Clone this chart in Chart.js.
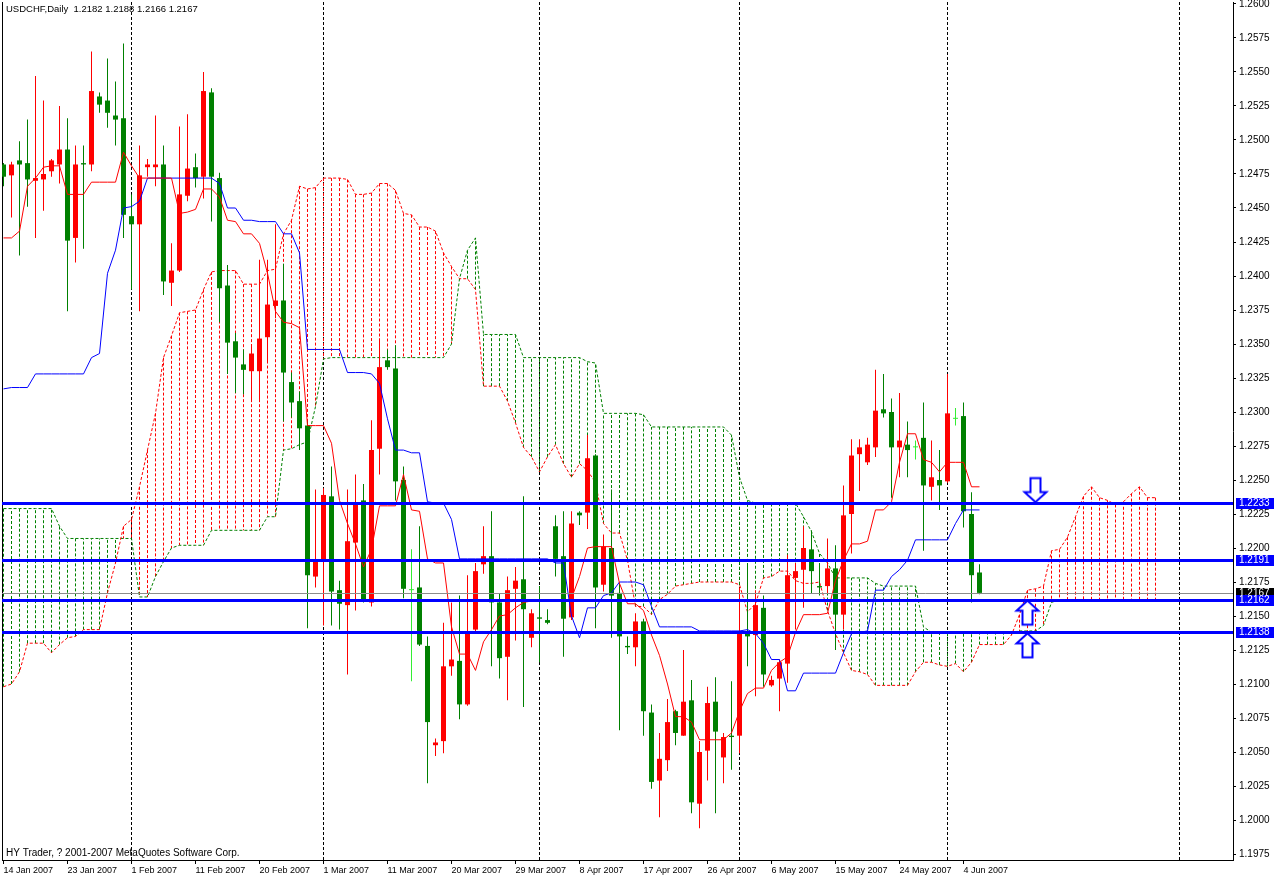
<!DOCTYPE html>
<html>
<head>
<meta charset="utf-8">
<title>USDCHF,Daily</title>
<script src="https://cdn.jsdelivr.net/npm/chart.js@4.4.1/dist/chart.umd.min.js"></script>
<style>
  html, body { margin: 0; padding: 0; background: #fff; }
  #wrap { width: 1274px; height: 878px; }
</style>
</head>
<body>
<div id="wrap"><canvas id="chart" width="1274" height="878"></canvas></div>
<script>
// ---- data (daily bars, index 0 = 14 Jan 2007) ----
const dateLabels = ['14 Jan 2007', '23 Jan 2007', '1 Feb 2007', '11 Feb 2007', '20 Feb 2007', '1 Mar 2007',
  '11 Mar 2007', '20 Mar 2007', '29 Mar 2007', '8 Apr 2007', '17 Apr 2007', '26 Apr 2007', '6 May 2007',
  '15 May 2007', '24 May 2007', '4 Jun 2007'];
const dateBars = [0, 8, 16, 24, 32, 40, 48, 56, 64, 72, 80, 88, 96, 104, 112, 120];
const separatorBars = [16, 40, 67, 92, 118, 147];
const priceTicks = [1.2600, 1.2575, 1.2550, 1.2525, 1.2500, 1.2475, 1.2450, 1.2425, 1.2400, 1.2375,
  1.2350, 1.2325, 1.2300, 1.2275, 1.2250, 1.2225, 1.2200, 1.2175, 1.2150, 1.2125, 1.2100, 1.2075,
  1.2050, 1.2025, 1.2000, 1.1975];

const opens = [
  1.2482, 1.2474, 1.2485, 1.2483, 1.2470, 1.2471, 1.2477, 1.2482, 1.2493, 1.2428,
  1.2483, 1.2482, 1.2532, 1.2529, 1.2518, 1.2516, 1.2444, 1.2438, 1.2480, 1.2480,
  1.2482, 1.2395, 1.2404, 1.2459, 1.2480, 1.2473, 1.2535, 1.2472, 1.2393, 1.2352,
  1.2335, 1.2330, 1.2330, 1.2355, 1.2378, 1.2382, 1.2322, 1.2308, 1.2290, 1.2179,
  1.2190, 1.2238, 1.2169, 1.2158, 1.2204, 1.2235, 1.2160, 1.2273, 1.2338, 1.2332,
  1.2250, 1.2169, 1.2171, 1.2128, 1.2055, 1.2058, 1.2113, 1.2117, 1.2085, 1.2140,
  1.2188, 1.2194, 1.2160, 1.2120, 1.2170, 1.2177, 1.2134, 1.2149, 1.2147, 1.2216,
  1.2194, 1.2149, 1.2226, 1.2226, 1.2268, 1.2173, 1.2200, 1.2167, 1.2128, 1.2127,
  1.2146, 1.2079, 1.2029, 1.2044, 1.2080, 1.2062, 1.2088, 1.2012, 1.2051, 1.2087,
  1.2046, 1.2062, 1.2062, 1.2138, 1.2136, 1.2156, 1.2099, 1.2104, 1.2115, 1.2178,
  1.2184, 1.2199, 1.2172, 1.2172, 1.2185, 1.2151, 1.2225, 1.2269, 1.2263, 1.2274,
  1.2302, 1.2300, 1.2274, 1.2276, 1.2274, 1.2281, 1.2245, 1.2250, 1.2249, 1.2295,
  1.2297, 1.2225, 1.2182];
const highs = [
  1.2483, 1.2484, 1.2499, 1.2515, 1.2547, 1.2529, 1.2486, 1.2525, 1.2516, 1.2496,
  1.2496, 1.2565, 1.2535, 1.2560, 1.2543, 1.2571, 1.2460, 1.2496, 1.2486, 1.2518,
  1.2496, 1.2424, 1.2510, 1.2519, 1.2490, 1.2550, 1.2538, 1.2476, 1.2408, 1.2358,
  1.2346, 1.2350, 1.2412, 1.2412, 1.2438, 1.2409, 1.2329, 1.2315, 1.2293, 1.2243,
  1.2244, 1.2260, 1.2176, 1.2243, 1.2254, 1.2247, 1.2294, 1.2354, 1.2346, 1.2349,
  1.2260, 1.2199, 1.2216, 1.2135, 1.2060, 1.2145, 1.2160, 1.2165, 1.2180, 1.2189,
  1.2216, 1.2227, 1.2167, 1.2179, 1.2186, 1.2238, 1.2155, 1.2172, 1.2155, 1.2224,
  1.2227, 1.2227, 1.2227, 1.2283, 1.2269, 1.2210, 1.2243, 1.2174, 1.2135, 1.2152,
  1.2148, 1.2085, 1.2064, 1.2089, 1.2081, 1.2125, 1.2103, 1.2058, 1.2098, 1.2105,
  1.2064, 1.2102, 1.2171, 1.2189, 1.2169, 1.2165, 1.2106, 1.2118, 1.2195, 1.2189,
  1.2216, 1.2213, 1.2189, 1.2207, 1.2202, 1.2246, 1.2280, 1.2280, 1.2281, 1.2331,
  1.2328, 1.2310, 1.2314, 1.2293, 1.2279, 1.2307, 1.2279, 1.2272, 1.2328, 1.2303,
  1.2307, 1.2241, 1.2188];
const lows = [
  1.2466, 1.2443, 1.2415, 1.2451, 1.2428, 1.2448, 1.2473, 1.2468, 1.2374, 1.2410,
  1.2420, 1.2477, 1.2520, 1.2509, 1.2496, 1.2428, 1.2390, 1.2374, 1.2473, 1.2466,
  1.2386, 1.2378, 1.2403, 1.2455, 1.2465, 1.2457, 1.2440, 1.2366, 1.2328, 1.2314,
  1.2313, 1.2308, 1.2309, 1.2336, 1.2369, 1.2293, 1.2296, 1.2272, 1.2141, 1.2171,
  1.2143, 1.2143, 1.2140, 1.2107, 1.2154, 1.2160, 1.2157, 1.2254, 1.2331, 1.2235,
  1.2163, 1.2102, 1.2128, 1.2027, 1.2047, 1.2049, 1.2106, 1.2074, 1.2084, 1.2138,
  1.2181, 1.2113, 1.2104, 1.2088, 1.2132, 1.2083, 1.2127, 1.2116, 1.2144, 1.2179,
  1.2120, 1.2147, 1.2217, 1.2214, 1.2141, 1.2168, 1.2134, 1.2066, 1.2122, 1.2113,
  1.2062, 1.2023, 1.2002, 1.2036, 1.2055, 1.2062, 1.2005, 1.1994, 1.2029, 1.2005,
  1.2027, 1.2037, 1.2049, 1.2113, 1.2091, 1.2098, 1.2098, 1.2080, 1.2101, 1.2140,
  1.2156, 1.2167, 1.2165, 1.2167, 1.2125, 1.2140, 1.2196, 1.2242, 1.2261, 1.2267,
  1.2296, 1.2237, 1.2252, 1.2252, 1.2265, 1.2198, 1.2235, 1.2228, 1.2248, 1.2290,
  1.2215, 1.2160, 1.2166];
const closes = [
  1.2473, 1.2482, 1.2482, 1.2471, 1.2472, 1.2475, 1.2485, 1.2493, 1.2426, 1.2482,
  1.2482, 1.2536, 1.2526, 1.2520, 1.2515, 1.2445, 1.2438, 1.2474, 1.2482, 1.2482,
  1.2396, 1.2404, 1.2460, 1.2479, 1.2472, 1.2536, 1.2473, 1.2391, 1.2351, 1.2340,
  1.2331, 1.2343, 1.2354, 1.2379, 1.2382, 1.2329, 1.2307, 1.2288, 1.2180, 1.2191,
  1.2239, 1.2168, 1.2159, 1.2205, 1.2233, 1.2162, 1.2272, 1.2333, 1.2333, 1.2249,
  1.2170, 1.2169, 1.2129, 1.2072, 1.2057, 1.2113, 1.2118, 1.2085, 1.2138, 1.2183,
  1.2194, 1.2160, 1.2119, 1.2169, 1.2176, 1.2155, 1.2152, 1.2148, 1.2145, 1.2192,
  1.2148, 1.2218, 1.2224, 1.2266, 1.2171, 1.2201, 1.2165, 1.2135, 1.2127, 1.2146,
  1.2080, 1.2028, 1.2045, 1.2072, 1.2064, 1.2087, 1.2013, 1.2050, 1.2086, 1.2065,
  1.2061, 1.2061, 1.2138, 1.2135, 1.2158, 1.2107, 1.2103, 1.2116, 1.2180, 1.2183,
  1.2200, 1.2183, 1.2171, 1.2185, 1.2151, 1.2224, 1.2268, 1.2274, 1.2276, 1.2301,
  1.2299, 1.2274, 1.2279, 1.2272, 1.2274, 1.2246, 1.2252, 1.2246, 1.2299, 1.2295,
  1.2227, 1.2180, 1.2167];

// Ichimoku lines
const tenkan = [
  1.2428, 1.2428, 1.2433, 1.2466, 1.2472, 1.2480, 1.2481, 1.2481, 1.2460, 1.2460,
  1.2460, 1.2469, 1.2469, 1.2469, 1.2469, 1.2491, 1.2481, 1.2472, 1.2472, 1.2472,
  1.2472, 1.2472, 1.2446, 1.2447, 1.2449, 1.2464, 1.2464, 1.2458, 1.2441, 1.2440,
  1.2431, 1.2431, 1.2424, 1.2402, 1.2374, 1.2366, 1.2365, 1.2362, 1.2290, 1.2290,
  1.2290, 1.2277, 1.2235, 1.2218, 1.2203, 1.2186, 1.2199, 1.2231, 1.2231, 1.2231,
  1.2254, 1.2228, 1.2227, 1.2192, 1.2189, 1.2189, 1.2142, 1.2122, 1.2122, 1.2110,
  1.2131, 1.2140, 1.2150, 1.2151, 1.2156, 1.2160, 1.2161, 1.2161, 1.2161, 1.2161,
  1.2161, 1.2163, 1.2179, 1.2200, 1.2201, 1.2201, 1.2201, 1.2174, 1.2159, 1.2159,
  1.2154, 1.2136, 1.2121, 1.2100, 1.2076, 1.2076, 1.2072, 1.2059, 1.2059, 1.2059,
  1.2059, 1.2064, 1.2080, 1.2093, 1.2097, 1.2097, 1.2110, 1.2116, 1.2120, 1.2138,
  1.2151, 1.2151, 1.2151, 1.2152, 1.2176, 1.2191, 1.2203, 1.2203, 1.2205, 1.2228,
  1.2228, 1.2234, 1.2263, 1.2284, 1.2284, 1.2265, 1.2263, 1.2256, 1.2263, 1.2263,
  1.2263, 1.2245, 1.2245];
const kijun = [
  1.2317, 1.2318, 1.2318, 1.2318, 1.2328, 1.2328, 1.2328, 1.2328, 1.2328, 1.2328,
  1.2328, 1.2340, 1.2343, 1.2402, 1.2419, 1.2450, 1.2451, 1.2455, 1.2472, 1.2472,
  1.2472, 1.2472, 1.2472, 1.2472, 1.2472, 1.2472, 1.2472, 1.2468, 1.2450, 1.2450,
  1.2441, 1.2441, 1.2440, 1.2440, 1.2440, 1.2431, 1.2431, 1.2417, 1.2346, 1.2346,
  1.2346, 1.2346, 1.2346, 1.2329, 1.2329, 1.2329, 1.2328, 1.2321, 1.2295, 1.2272,
  1.2272, 1.2270, 1.2270, 1.2234, 1.2233, 1.2233, 1.2221, 1.2192, 1.2192, 1.2192,
  1.2192, 1.2192, 1.2192, 1.2192, 1.2192, 1.2192, 1.2192, 1.2192, 1.2192, 1.2189,
  1.2189, 1.2150, 1.2134, 1.2156, 1.2156, 1.2165, 1.2167, 1.2175, 1.2175, 1.2175,
  1.2173, 1.2157, 1.2142, 1.2142, 1.2142, 1.2142, 1.2142, 1.2139, 1.2139, 1.2139,
  1.2139, 1.2139, 1.2139, 1.2140, 1.2137, 1.2130, 1.2118, 1.2118, 1.2095, 1.2095,
  1.2108, 1.2108, 1.2108, 1.2108, 1.2108, 1.2123, 1.2137, 1.2138, 1.2139, 1.2169,
  1.2169, 1.2179, 1.2184, 1.2191, 1.2206, 1.2206, 1.2206, 1.2206, 1.2206, 1.2218,
  1.2228, 1.2228, 1.2228];
// Senkou spans, already shifted forward (run past the last candle)
const spanA = [
  1.2098, 1.2100, 1.2109, 1.2130, 1.2130, 1.2130, 1.2123, 1.2129, 1.2134, 1.2135,
  1.2140, 1.2140, 1.2140, 1.2167, 1.2189, 1.2216, 1.2221, 1.2245, 1.2272, 1.2299,
  1.2340, 1.2356, 1.2373, 1.2374, 1.2375, 1.2390, 1.2403, 1.2404, 1.2404, 1.2404,
  1.2394, 1.2394, 1.2394, 1.2404, 1.2405, 1.2431, 1.2441, 1.2466, 1.2464, 1.2465,
  1.2472, 1.2472, 1.2472, 1.2471, 1.2460, 1.2460, 1.2461, 1.2468, 1.2468, 1.2463,
  1.2446, 1.2445, 1.2436, 1.2436, 1.2433, 1.2417, 1.2407, 1.2398, 1.2398, 1.2390,
  1.2319, 1.2319, 1.2319, 1.2308, 1.2292, 1.2274, 1.2267, 1.2256, 1.2267, 1.2276,
  1.2262, 1.2252, 1.2262, 1.2257, 1.2248, 1.2218, 1.2211, 1.2211, 1.2191, 1.2157,
  1.2157, 1.2151, 1.2162, 1.2166, 1.2172, 1.2173, 1.2174, 1.2175, 1.2175, 1.2175,
  1.2175, 1.2175, 1.2173, 1.2153, 1.2159, 1.2178, 1.2179, 1.2183, 1.2183, 1.2176,
  1.2174, 1.2174, 1.2175, 1.2154, 1.2137, 1.2123, 1.2110, 1.2109, 1.2107, 1.2099,
  1.2099, 1.2099, 1.2099, 1.2099, 1.2109, 1.2116, 1.2116, 1.2114, 1.2113, 1.2115,
  1.2109, 1.2116, 1.2129, 1.2129, 1.2129, 1.2129, 1.2136, 1.2151, 1.2169, 1.2170,
  1.2172, 1.2198, 1.2199, 1.2208, 1.2223, 1.2238, 1.2245, 1.2237, 1.2235, 1.2232,
  1.2234, 1.2240, 1.2245, 1.2237, 1.2237];
const spanB = [
  1.2229, 1.2229, 1.2229, 1.2229, 1.2229, 1.2229, 1.2229, 1.2216, 1.2207, 1.2207,
  1.2207, 1.2207, 1.2207, 1.2207, 1.2207, 1.2207, 1.2207, 1.2164, 1.2164, 1.2179,
  1.2190, 1.2200, 1.2202, 1.2202, 1.2202, 1.2202, 1.2213, 1.2213, 1.2213, 1.2213,
  1.2213, 1.2213, 1.2213, 1.2223, 1.2223, 1.2272, 1.2273, 1.2276, 1.2278, 1.2304,
  1.2339, 1.2340, 1.2340, 1.2340, 1.2340, 1.2340, 1.2340, 1.2340, 1.2340, 1.2340,
  1.2340, 1.2340, 1.2340, 1.2340, 1.2340, 1.2340, 1.2350, 1.2398, 1.2419, 1.2428,
  1.2357, 1.2357, 1.2357, 1.2357, 1.2357, 1.2340, 1.2340, 1.2340, 1.2340, 1.2340,
  1.2340, 1.2340, 1.2340, 1.2337, 1.2336, 1.2299, 1.2299, 1.2299, 1.2299, 1.2299,
  1.2298, 1.2289, 1.2289, 1.2289, 1.2289, 1.2289, 1.2289, 1.2289, 1.2289, 1.2289,
  1.2289, 1.2283, 1.2252, 1.2235, 1.2233, 1.2233, 1.2233, 1.2233, 1.2233, 1.2233,
  1.2223, 1.2212, 1.2196, 1.2189, 1.2178, 1.2178, 1.2178, 1.2178, 1.2178, 1.2174,
  1.2172, 1.2172, 1.2172, 1.2172, 1.2172, 1.2142, 1.2138, 1.2138, 1.2138, 1.2138,
  1.2138, 1.2138, 1.2138, 1.2138, 1.2138, 1.2138, 1.2138, 1.2139, 1.2139, 1.2139,
  1.2143, 1.2160, 1.2162, 1.2162, 1.2162, 1.2162, 1.2162, 1.2162, 1.2162, 1.2162,
  1.2162, 1.2162, 1.2162, 1.2162, 1.2162];

// horizontal lines, bid line and arrow objects
const levels = [1.2233, 1.2191, 1.2162, 1.2138];
const bidPrice = 1.2167;
const arrowBars = [129, 128, 128];
const arrowPrices = [1.2233, 1.2162, 1.2138];
const arrowDirs = ['down', 'up', 'up'];

// ---- drawing ----
const FONT = '"Liberation Sans", Arial, sans-serif';
Chart.defaults.font.family = FONT;
Chart.defaults.font.size = 10;
Chart.defaults.color = '#000';

const canvas = document.getElementById('chart');
const ctx = canvas.getContext('2d');

function arrowImage(dir) {
  const c = document.createElement('canvas');
  c.width = 27; c.height = 55;
  const g = c.getContext('2d');
  g.translate(13.5, 27.5); // tip sits in the middle of the image
  if (dir === 'up') g.scale(1, -1);
  g.beginPath();
  g.moveTo(0, -1);
  g.lineTo(-11, -11);
  g.lineTo(-5, -11);
  g.lineTo(-5, -25);
  g.lineTo(5, -25);
  g.lineTo(5, -11);
  g.lineTo(11, -11);
  g.closePath();
  g.fillStyle = '#ffffff';
  g.fill();
  g.lineWidth = 2;
  g.strokeStyle = '#0000ff';
  g.stroke();
  return c;
}
const arrowImgs = { up: arrowImage('up'), down: arrowImage('down') };

const candleColor = i => {
  if (i === undefined) return '#008000';
  if (closes[i] > opens[i]) return '#ff0000';
  if (closes[i] < opens[i]) return '#008000';
  return '#33ee33';
};

const xy = arr => arr.map((v, i) => ({ x: i, y: v }));

// cloud hatch: one dotted vertical stroke per bar, from span A to span B
const cloudData = [];
spanA.forEach((a, i) => {
  cloudData.push({ x: i, y: a }, { x: i, y: spanB[i] }, { x: i, y: null });
});
const cloudColor = k => {
  const i = Math.floor(k / 3);
  return spanA[i] >= spanB[i] ? '#ff0000' : '#008000';
};

// keep the plot area where MetaTrader puts it
const noPad = s => { s.paddingLeft = 0; s.paddingRight = 0; s.paddingTop = 0; s.paddingBottom = 0; };

const framePlugin = {
  id: 'frame',
  beforeDatasetsDraw(chart) {
    const { ctx, chartArea: a } = chart;
    ctx.save();
    ctx.strokeStyle = '#000';
    ctx.lineWidth = 1;
    ctx.beginPath();
    ctx.moveTo(a.left + 0.5, a.top);
    ctx.lineTo(a.left + 0.5, a.bottom);
    ctx.stroke();
    ctx.restore();
  }
};

const levelsPlugin = {
  id: 'levels',
  afterDatasetsDraw(chart) {
    const { ctx, chartArea: a, scales: { y } } = chart;
    ctx.save();
    // bid line
    const by = Math.round(y.getPixelForValue(bidPrice)) + 0.5;
    ctx.strokeStyle = '#8c8c8c';
    ctx.lineWidth = 1;
    ctx.beginPath();
    ctx.moveTo(a.left, by);
    ctx.lineTo(a.right, by);
    ctx.stroke();
    // blue horizontal lines
    ctx.fillStyle = '#0000ff';
    levels.forEach(v => {
      const py = Math.round(y.getPixelForValue(v));
      ctx.fillRect(a.left, py - 1, a.right - a.left, 3);
    });
    // price tags on the right scale
    ctx.font = '10px ' + FONT;
    ctx.textBaseline = 'middle';
    ctx.textAlign = 'left';
    const tag = (v, bg) => {
      const py = Math.round(y.getPixelForValue(v));
      ctx.fillStyle = bg;
      ctx.fillRect(a.right + 3, py - 5, chart.width - a.right - 3, 11);
      ctx.fillStyle = '#fff';
      ctx.fillText(v.toFixed(4), a.right + 6, py + 0.5);
    };
    tag(bidPrice, '#000');
    levels.forEach(v => tag(v, '#0000ff'));
    ctx.restore();
  },
  afterDraw(chart) {
    const { ctx, chartArea: a } = chart;
    const n = opens.length - 1;
    ctx.save();
    ctx.fillStyle = '#000';
    ctx.textAlign = 'left';
    ctx.textBaseline = 'alphabetic';
    ctx.font = '9.5px ' + FONT;
    ctx.fillText('USDCHF,Daily  ' + [opens[n], highs[n], lows[n], closes[n]].map(v => v.toFixed(4)).join(' '),
      a.left + 4, a.top + 10);
    ctx.font = '10px ' + FONT;
    ctx.fillText('HY Trader, ? 2001-2007 MetaQuotes Software Corp.', a.left + 4, a.bottom - 4);
    ctx.restore();
  }
};

const xMin = -0.1875, xMax = 153.6875;

new Chart(ctx, {
  data: {
    datasets: [
      {
        type: 'line', label: 'cloud', order: 10, data: cloudData, spanGaps: false,
        borderColor: '#008000', borderWidth: 1, borderDash: [3, 2], pointRadius: 0, tension: 0,
        segment: { borderColor: c => cloudColor(c.p0DataIndex) }
      },
      {
        type: 'line', label: 'Senkou A', order: 9, data: xy(spanA),
        borderColor: '#ff0000', borderWidth: 1, borderDash: [3, 2], pointRadius: 0, tension: 0
      },
      {
        type: 'line', label: 'Senkou B', order: 9, data: xy(spanB),
        borderColor: '#008000', borderWidth: 1, borderDash: [3, 2], pointRadius: 0, tension: 0
      },
      {
        type: 'bar', label: 'wicks', order: 8, grouped: false, barThickness: 1, inflateAmount: 0,
        data: lows.map((l, i) => ({ x: i, y: [l, highs[i]] })),
        backgroundColor: c => candleColor(c.dataIndex), borderWidth: 0
      },
      {
        type: 'bar', label: 'bodies', order: 7, grouped: false, barThickness: 5, inflateAmount: 0, minBarLength: 1,
        data: opens.map((o, i) => ({ x: i, y: [o, closes[i]] })),
        backgroundColor: c => candleColor(c.dataIndex), borderWidth: 0
      },
      {
        type: 'line', label: 'Tenkan', order: 5, data: xy(tenkan),
        borderColor: '#ff0000', borderWidth: 1, pointRadius: 0, tension: 0
      },
      {
        type: 'line', label: 'Kijun', order: 5, data: xy(kijun),
        borderColor: '#0000ff', borderWidth: 1, pointRadius: 0, tension: 0
      },
      {
        type: 'scatter', label: 'arrows', order: 2,
        data: arrowBars.map((b, i) => ({ x: b, y: arrowPrices[i] })),
        pointStyle: c => arrowImgs[arrowDirs[c.dataIndex] || 'up'], pointRadius: 12
      }
    ]
  },
  options: {
    responsive: false,
    devicePixelRatio: 1,
    animation: false,
    events: [],
    layout: { autoPadding: false, padding: { left: 2, top: 2, right: 0, bottom: 0 } },
    plugins: { legend: { display: false }, tooltip: { enabled: false }, title: { display: false } },
    scales: {
      x: {
        type: 'linear', position: 'bottom', min: xMin, max: xMax, offset: false,
        afterBuildTicks: s => { s.ticks = dateBars.map(v => ({ value: v })); },
        afterFit: s => { s.height = 18; noPad(s); },
        ticks: {
          autoSkip: false, maxRotation: 0, align: 'start', padding: 1, font: { size: 9 },
          callback: v => dateLabels[dateBars.indexOf(v)] || ''
        },
        grid: { offset: false, drawOnChartArea: false, drawTicks: true, tickLength: 4, color: '#000' },
        border: { display: true, color: '#000' }
      },
      xs: {
        type: 'linear', position: 'bottom', min: xMin, max: xMax, offset: false,
        afterBuildTicks: s => { s.ticks = separatorBars.map(v => ({ value: v })); },
        afterFit: s => { s.height = 0; noPad(s); },
        ticks: { display: false },
        grid: { offset: false, drawOnChartArea: true, drawTicks: false, color: '#000', lineWidth: 1 },
        border: { display: false, dash: [3, 2] }
      },
      y: {
        type: 'linear', position: 'right', min: 1.197059, max: 1.260147,
        afterBuildTicks: s => { s.ticks = priceTicks.map(v => ({ value: v })); },
        afterFit: s => { s.width = 41; noPad(s); },
        ticks: { padding: 3, callback: v => v.toFixed(4) },
        grid: { drawOnChartArea: false, drawTicks: true, tickLength: 3, color: '#000' },
        border: { display: true, color: '#000' }
      }
    }
  },
  plugins: [framePlugin, levelsPlugin]
});
</script>
</body>
</html>
